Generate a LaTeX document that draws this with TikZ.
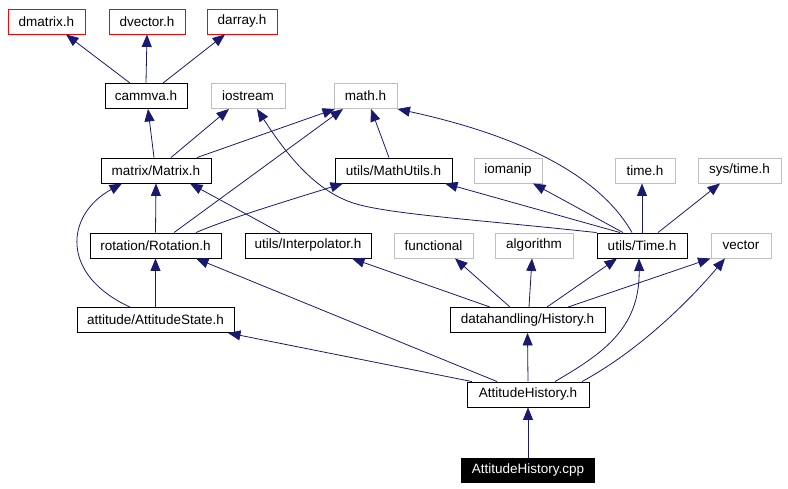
\documentclass[tikz,border=0pt]{standalone}
\usepackage{fontspec}
\setmainfont{Liberation Sans}
\usetikzlibrary{arrows.meta}
\definecolor{edgeblue}{RGB}{25,25,112}
\definecolor{sysgray}{RGB}{191,191,191}
\begin{document}
\begin{tikzpicture}[x=1pt,y=-1pt,
    header/.style ={rectangle, draw=black, line width=0.9pt, inner sep=0pt, minimum height=25pt, font=\fontsize{13.5}{15}\selectfont},
    sysheader/.style ={header, draw=sysgray},
    missing/.style ={header, draw=red},
    source/.style ={header, fill=black, text=white, minimum height=24pt},
    inc/.style ={draw=edgeblue, line width=0.8pt, -{Triangle[length=12.5pt,width=10pt]}}]
   \useasboundingbox (0,0) rectangle (788,489);
   \node[missing, minimum width=77pt] (dmatrix) at (46.5,21.5) {dmatrix.h};
   \node[missing, minimum width=76pt] (dvector) at (147,21.5) {dvector.h};
   \node[missing, minimum width=70pt] (darray) at (242,21.5) {darray.h};
   \node[header, minimum width=82pt] (cammva) at (146,96) {cammva.h};
   \node[sysheader, minimum width=74pt] (iostream) at (248,96) {iostream};
   \node[sysheader, minimum width=63pt] (mathh) at (365.5,96) {math.h};
   \node[header, minimum width=110pt] (matrix) at (156,170.5) {matrix/Matrix.h};
   \node[header, minimum width=117pt] (mathutils) at (393.5,170.5) {utils/MathUtils.h};
   \node[sysheader, minimum width=68pt] (iomanip) at (508,170.5) {iomanip};
   \node[sysheader, minimum width=60pt] (timeh) at (645,170.5) {time.h};
   \node[sysheader, minimum width=83pt] (systime) at (739.5,170.5) {sys/time.h};
   \node[header, minimum width=131pt] (rotation) at (155.5,245.5) {rotation/Rotation.h};
   \node[header, minimum width=126pt] (interp) at (308,245.5) {utils/Interpolator.h};
   \node[sysheader, minimum width=79pt] (functional) at (433.5,245.5) {functional};
   \node[sysheader, minimum width=78pt] (algorithm) at (534,245.5) {algorithm};
   \node[header, minimum width=90pt] (time) at (642,245.5) {utils/Time.h};
   \node[sysheader, minimum width=60pt] (vector) at (741,245.5) {vector};
   \node[header, minimum width=157pt] (attstate) at (155.5,320) {attitude/AttitudeState.h};
   \node[header, minimum width=155pt] (history) at (527.5,320) {datahandling/History.h};
   \node[header, minimum width=122pt] (atthist) at (528,394.5) {AttitudeHistory.h};
   \node[source, minimum width=133pt] (cpp) at (528,470) {AttitudeHistory.cpp};
   \draw[inc] ([xshift=-16pt]cammva.north) -- ([xshift=19.5pt]dmatrix.south);
   \draw[inc] (cammva.north) -- (dvector.south);
   \draw[inc] ([xshift=17pt]cammva.north) -- ([xshift=-17pt]darray.south);
   \draw[inc] ([xshift=-2pt]matrix.north) -- ([xshift=2pt]cammva.south);
   \draw[inc] ([xshift=15pt]matrix.north) -- ([xshift=-19pt]iostream.south);
   \draw[inc] ([xshift=41pt]matrix.north) -- ([xshift=-30.5pt]mathh.south);
   \draw[inc] ([xshift=-4.5pt]mathutils.north) -- ([xshift=5.5pt]mathh.south);
   \draw[inc] ([xshift=-10pt]time.north) .. controls (605,185) and (540,140) .. (mathh.south east);
   \draw[inc] (time.north west) .. controls (480,220) and (400,215) .. (360,205)
      .. controls (320,195) and (290,160) .. ([xshift=9pt]iostream.south);
   \draw[inc] ([xshift=-22pt]time.north) -- ([xshift=51.5pt]mathutils.south);
   \draw[inc] ([xshift=-19pt]time.north) -- ([xshift=25pt]iomanip.south);
   \draw[inc] (time.north) -- (time.north |- timeh.south);
   \draw[inc] ([xshift=16pt]time.north) -- ([xshift=-19.5pt]systime.south);
   \draw[inc] (rotation.north) -- (matrix.south);
   \draw[inc] ([xshift=18.5pt]rotation.north) -- ([xshift=-22.5pt]mathh.south);
   \draw[inc] ([xshift=40.5pt]rotation.north) .. controls (230,218) and (290,200) .. ([xshift=-50.5pt]mathutils.south);
   \draw[inc] ([xshift=-28pt]interp.north) -- ([xshift=34pt]matrix.south);
   \draw[inc] (attstate.north) -- (rotation.south);
   \draw[inc] ([xshift=-25.5pt]attstate.north) .. controls (60,275) and (65,215) .. ([xshift=-34pt]matrix.south);
   \draw[inc] ([xshift=-56pt]atthist.north) -- ([xshift=72.5pt]attstate.south);
   \draw[inc] ([xshift=-31pt]atthist.north) -- ([xshift=40.5pt]rotation.south);
   \draw[inc] (atthist.north) -- (history.south);
   \draw[inc] ([xshift=27pt]atthist.north) .. controls (600,355) and (640,330) .. ([xshift=-3pt]time.south);
   \draw[inc] ([xshift=54pt]atthist.north) .. controls (640,350) and (690,300) .. ([xshift=-16pt]vector.south);
   \draw[inc] ([xshift=-37.5pt]history.north) -- ([xshift=44pt]interp.south);
   \draw[inc] ([xshift=-17.5pt]history.north) -- ([xshift=21.5pt]functional.south);
   \draw[inc] ([xshift=1.5pt]history.north) -- ([xshift=-2pt]algorithm.south);
   \draw[inc] ([xshift=19.5pt]history.north) -- ([xshift=-25pt]time.south);
   \draw[inc] ([xshift=40.5pt]history.north) -- (vector.south west);
   \draw[inc] (cpp.north) -- (atthist.south);
 \end{tikzpicture}
\end{document}
